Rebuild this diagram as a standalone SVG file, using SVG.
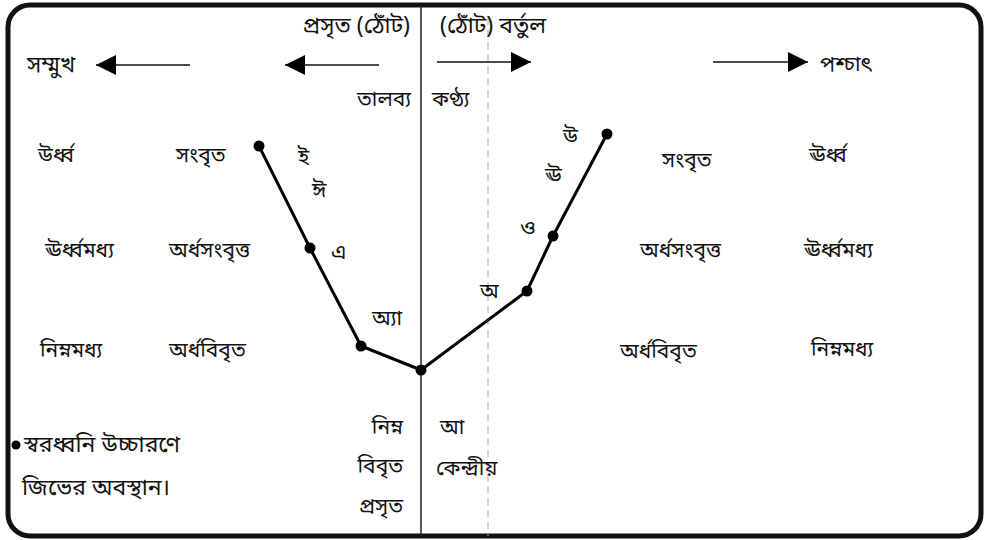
<svg xmlns="http://www.w3.org/2000/svg" width="985" height="540" viewBox="0 0 985 540">
<defs>
<style>
text{font-family:"Noto Sans Bengali","Noto Sans","Lohit Bengali","FreeSans",sans-serif;font-size:21px;fill:#111}
.e{text-anchor:end}
.big{font-size:23px}
.ln{stroke:#111;stroke-width:1.5;fill:none}
.tongue{stroke:#000;stroke-width:3;fill:none;stroke-linejoin:round}
.dot{fill:#000}
</style>
<marker id="ah" viewBox="0 0 10 10" refX="10" refY="5" markerWidth="25" markerHeight="20" markerUnits="userSpaceOnUse" orient="auto">
<path d="M0,0 L10,5 L0,10 Z" fill="#000"/>
</marker>
</defs>
<rect width="985" height="540" fill="#fff"/>
<g id="frame">
<rect x="8" y="5" width="973" height="531" rx="22" ry="22" fill="none" stroke="#111" stroke-width="5"/>
</g>
<g id="axes">
<line x1="421" y1="5" x2="421" y2="536" stroke="#222" stroke-width="1.5"/>
<line x1="488" y1="18" x2="488" y2="536" stroke="#aaa" stroke-width="1" stroke-dasharray="7 5"/>
</g>
<g id="connectors">
<line class="ln" x1="190" y1="65" x2="96" y2="65" marker-end="url(#ah)"/>
<line class="ln" x1="379" y1="65" x2="285" y2="65" marker-end="url(#ah)"/>
<line class="ln" x1="437" y1="62" x2="531" y2="62" marker-end="url(#ah)"/>
<line class="ln" x1="713" y1="62" x2="808" y2="62" marker-end="url(#ah)"/>
<polyline class="tongue" points="259,146 310,248 361,346 421,370 527,291 553,236 607,134"/>
</g>
<g id="points">
<circle class="dot" cx="259" cy="146" r="5.5"/>
<circle class="dot" cx="310" cy="248" r="5.5"/>
<circle class="dot" cx="361" cy="346" r="5.5"/>
<circle class="dot" cx="421" cy="370" r="5.5"/>
<circle class="dot" cx="527" cy="291" r="5.5"/>
<circle class="dot" cx="553" cy="236" r="5.5"/>
<circle class="dot" cx="607" cy="134" r="5.5"/>
</g>
<g id="top-labels">
<text class="e big" x="410" y="33">প্রসৃত (ঠোঁট)</text>
<text class="big" x="440" y="33">(ঠোঁট) বর্তুল</text>
<text class="big" x="27" y="72">সম্মুখ</text>
<text x="820" y="71">পশ্চাৎ</text>
<text class="e" x="411" y="106">তালব্য</text>
<text x="432" y="106">কণ্ঠ্য</text>
</g>
<g id="left-labels">
<text x="38" y="162">উর্ধ্ব</text>
<text x="176" y="162">সংবৃত</text>
<text x="45" y="257">ঊর্ধ্বমধ্য</text>
<text x="169" y="257">অর্ধসংবৃত্ত</text>
<text x="40" y="357">নিম্নমধ্য</text>
<text x="169" y="357">অর্ধবিবৃত</text>
</g>
<g id="vowels">
<text x="298" y="164">ই</text>
<text x="312" y="197">ঈ</text>
<text x="331" y="259">এ</text>
<text x="372" y="325">অ্যা</text>
<text x="563" y="143">উ</text>
<text x="545" y="182">ঊ</text>
<text x="520" y="235">ও</text>
<text x="480" y="298">অ</text>
</g>
<g id="right-labels">
<text x="662" y="167">সংবৃত</text>
<text x="809" y="162">ঊর্ধ্ব</text>
<text x="640" y="257">অর্ধসংবৃত্ত</text>
<text x="804" y="257">ঊর্ধ্বমধ্য</text>
<text x="620" y="358">অর্ধবিবৃত</text>
<text x="811" y="356">নিম্নমধ্য</text>
</g>
<g id="bottom-labels">
<text class="e" x="403" y="434">নিম্ন</text>
<text class="e" x="403" y="473">বিবৃত</text>
<text class="e" x="403" y="513">প্রসৃত</text>
<text x="440" y="434">আ</text>
<text x="436" y="475">কেন্দ্রীয়</text>
</g>
<g id="legend">
<circle class="dot" cx="16" cy="445" r="4.5"/>
<text class="big" x="24" y="452">স্বরধ্বনি উচ্চারণে</text>
<text class="big" x="22" y="495">জিভের অবস্থান।</text>
</g>
</svg>
